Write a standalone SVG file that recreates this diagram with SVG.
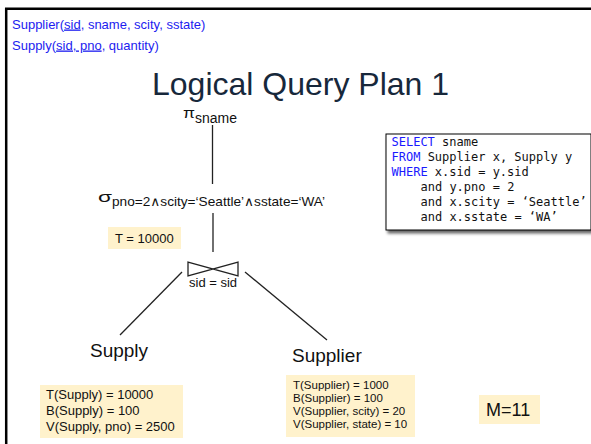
<svg xmlns="http://www.w3.org/2000/svg" width="591" height="444" viewBox="0 0 591 444">
  <style>
    .sans { font-family: "Liberation Sans", Arial, "DejaVu Sans", sans-serif; fill: #111; }
    .schema { font-family: "Liberation Sans", Arial, sans-serif; font-size: 13px; fill: #1c1cf0; }
    .u { text-decoration: underline; }
    .title { font-family: "Liberation Sans", Arial, sans-serif; font-size: 32px; fill: #17283b; }
    .mono { font-family: "DejaVu Sans Mono", "Liberation Mono", monospace; font-size: 12px; fill: #111; }
    .kw { fill: #1a1aff; }
    .edge { stroke: #222; stroke-width: 1.3; fill: none; }
    .stat { fill: #fff2cc; }
  </style>
  <defs>
    <filter id="shadow" x="-10%" y="-10%" width="130%" height="130%">
      <feGaussianBlur in="SourceAlpha" stdDeviation="1.5"/>
      <feOffset dx="2" dy="3" result="b"/>
      <feComponentTransfer><feFuncA type="linear" slope="0.6"/></feComponentTransfer>
      <feMerge><feMergeNode/><feMergeNode in="SourceGraphic"/></feMerge>
    </filter>
  </defs>

  <rect width="591" height="444" fill="#fff"/>
  <!-- slide frame -->
  <path d="M6.2,444 V8.7 H591" fill="none" stroke="#000" stroke-width="2.5"/>

  <!-- relation schemas -->
  <g id="schemas">
    <text class="schema" x="12" y="28.5">Supplier(<tspan class="u">sid</tspan>, sname, scity, sstate)</text>
    <text class="schema" x="12" y="49.5">Supply(<tspan class="u">sid, pno</tspan>, quantity)</text>
  </g>

  <text class="title" x="152" y="95">Logical Query Plan 1</text>

  <!-- plan edges -->
  <g id="connectors">
    <line class="edge" x1="212.5" y1="125" x2="212.5" y2="184"/>
    <line class="edge" x1="213" y1="213" x2="213" y2="252"/>
    <line class="edge" x1="182" y1="272" x2="120" y2="335"/>
    <line class="edge" x1="245" y1="272" x2="327" y2="340"/>
  </g>

  <!-- projection -->
  <g id="project">
    <text class="sans" x="183" y="118" font-size="14" textLength="12" lengthAdjust="spacingAndGlyphs">π</text>
    <text class="sans" x="195" y="122.5" font-size="14">sname</text>
  </g>

  <!-- selection -->
  <g id="select">
    <text class="sans" x="98" y="202" font-size="14" textLength="14" lengthAdjust="spacingAndGlyphs">σ</text>
    <text class="sans" x="112" y="206" font-size="13" textLength="213" lengthAdjust="spacingAndGlyphs">pno=2∧scity=‘Seattle’∧sstate=‘WA’</text>
  </g>

  <!-- cardinality after selection -->
  <g id="t-select">
    <rect class="stat" x="108" y="227" width="73" height="22"/>
    <text class="sans" x="115" y="243" font-size="13">T = 10000</text>
  </g>

  <!-- join -->
  <g id="join">
    <path class="edge" d="M188,262 V276 L238,262 V276 Z"/>
    <text class="sans" x="189" y="287" font-size="13">sid = sid</text>
  </g>

  <!-- base relations -->
  <g id="supply">
    <text class="sans" x="90" y="357" font-size="19">Supply</text>
  </g>
  <g id="supplier">
    <text class="sans" x="292" y="362" font-size="19">Supplier</text>
  </g>

  <!-- statistics -->
  <g id="supply-stats">
    <rect class="stat" x="40" y="385" width="143" height="53"/>
    <text class="sans" x="46" y="399" font-size="13">T(Supply) = 10000</text>
    <text class="sans" x="46" y="415" font-size="13">B(Supply) = 100</text>
    <text class="sans" x="46" y="431" font-size="13">V(Supply, pno) = 2500</text>
  </g>
  <g id="supplier-stats">
    <rect class="stat" x="286" y="375" width="129" height="62"/>
    <text class="sans" x="293" y="388.5" font-size="11.5">T(Supplier) = 1000</text>
    <text class="sans" x="293" y="401.8" font-size="11.5">B(Supplier) = 100</text>
    <text class="sans" x="293" y="415" font-size="11.5">V(Supplier, scity) = 20</text>
    <text class="sans" x="293" y="428.3" font-size="11.5">V(Supplier, state) = 10</text>
  </g>
  <g id="memory">
    <rect class="stat" x="479" y="395" width="61" height="29"/>
    <text class="sans" x="486" y="416" font-size="18">M=11</text>
  </g>

  <!-- SQL query -->
  <g id="sql">
    <rect x="386" y="134" width="205" height="96" fill="#fff" stroke="#000" stroke-width="1" filter="url(#shadow)"/>
    <text class="mono" x="391.5" y="146"><tspan class="kw">SELECT</tspan> sname</text>
    <text class="mono" x="391.5" y="161"><tspan class="kw">FROM</tspan> Supplier x, Supply y</text>
    <text class="mono" x="391.5" y="176"><tspan class="kw">WHERE</tspan> x.sid = y.sid</text>
    <text class="mono" x="420.5" y="191">and y.pno = 2</text>
    <text class="mono" x="420.5" y="206">and x.scity = ‘Seattle’</text>
    <text class="mono" x="420.5" y="221">and x.sstate = ‘WA’</text>
  </g>
</svg>
